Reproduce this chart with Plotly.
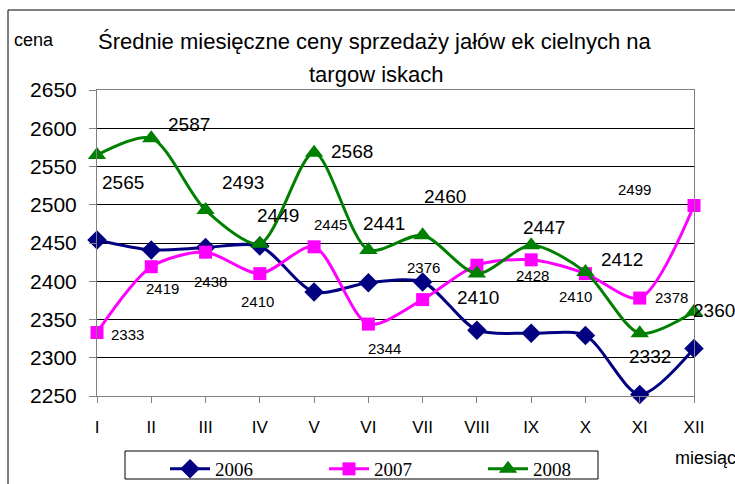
import plotly.graph_objects as go

months = ["I", "II", "III", "IV", "V", "VI", "VII", "VIII", "IX", "X", "XI", "XII"]
series_names = ["2006", "2007", "2008"]
v2006 = [2454, 2441, 2444, 2446, 2386, 2398, 2399, 2336, 2332, 2329, 2252, 2312]
v2007 = [2333, 2419, 2438, 2410, 2445, 2344, 2376, 2421, 2428, 2410, 2378, 2499]
v2008 = [2565, 2587, 2493, 2449, 2568, 2441, 2460, 2410, 2447, 2412, 2332, 2360]
labeled2007 = [True, True, True, True, True, True, True, False, True, True, True, True]
y_ticks = [2250, 2300, 2350, 2400, 2450, 2500, 2550, 2600, 2650]

# label offsets in pixels (dx right, dy down)
g_dx = [26, 38, 37, 18, 38, 16, 22, 1, 13, 37, 10, 20]
g_dy = [27, -14, -28, -28, -1, -26, -39, 24, -18, -13, 23, -1]
p_dx = [30, 11, 5, -2, 16, 16, 1, 0, 1, -10, 32, -60]
p_dy = [2, 22, 29, 28, -22, 24, -32, 0, 16, 23, -1, -16]

W, H = 735, 484
L, R, T, B = 97, 41, 90, 88
pw, ph = W - L - R, H - T - B

def px(xp):
    return (xp - L) / pw

def py(yp):
    return (H - B - yp) / ph

fig = go.Figure()
styles = [
    ("#000080", "diamond", 15),
    ("#FF00FF", "square", 13),
    ("#008000", "triangle-up", 16),
]
for name, vals, (col, sym, sz) in zip(series_names, [v2006, v2007, v2008], styles):
    fig.add_trace(go.Scatter(
        x=months, y=vals, name=name, mode="lines+markers",
        line=dict(color=col, width=3, shape="spline", smoothing=0.8),
        marker=dict(color=col, symbol=sym, size=sz),
        cliponaxis=False,
    ))

ann = []
for i, m in enumerate(months):
    ann.append(dict(x=m, y=v2008[i], text=str(v2008[i]), showarrow=False,
                    xshift=g_dx[i], yshift=-g_dy[i],
                    font=dict(family="Liberation Sans, Arial", size=19, color="#000")))
    if labeled2007[i]:
        ann.append(dict(x=m, y=v2007[i], text=str(v2007[i]), showarrow=False,
                        xshift=p_dx[i], yshift=-p_dy[i],
                        font=dict(family="Liberation Sans, Arial", size=15, color="#000")))

ann += [
    dict(xref="paper", yref="paper", x=px(374), y=py(42), xanchor="center", yanchor="middle",
         text="Średnie miesięczne ceny sprzedaży jałów ek cielnych na", showarrow=False,
         font=dict(family="Liberation Sans, Arial", size=22, color="#000")),
    dict(xref="paper", yref="paper", x=px(376), y=py(75), xanchor="center", yanchor="middle",
         text="targow iskach", showarrow=False,
         font=dict(family="Liberation Sans, Arial", size=22, color="#000")),
    dict(xref="paper", yref="paper", x=px(12), y=py(40), xanchor="left", yanchor="middle",
         text="cena", showarrow=False,
         font=dict(family="Liberation Sans, Arial", size=18, color="#000")),
    dict(xref="paper", yref="paper", x=px(673), y=py(458), xanchor="left", yanchor="middle",
         text="miesiąc", showarrow=False,
         font=dict(family="Liberation Sans, Arial", size=18, color="#000")),
]

fig.update_layout(
    width=W, height=H,
    margin=dict(l=L, r=R, t=T, b=B, autoexpand=False),
    paper_bgcolor="white", plot_bgcolor="white",
    annotations=ann,
    showlegend=True,
    legend=dict(orientation="h", x=px(165), y=py(450), xanchor="left", yanchor="top",
                borderwidth=0, bgcolor="rgba(0,0,0,0)",
                font=dict(family="Liberation Serif, Times New Roman", size=19, color="#000"),
                entrywidth=104, entrywidthmode="pixels", itemwidth=40,
                tracegroupgap=0),
    shapes=[
        dict(type="rect", xref="paper", yref="paper", x0=px(8), y0=-0.6, x1=1.3, y1=py(10),
             line=dict(color="#000", width=1), layer="below"),
        dict(type="rect", xref="paper", yref="paper", x0=px(125), y0=py(479), x1=px(598), y1=py(451),
             line=dict(color="#000", width=1), fillcolor="white", layer="below"),
    ],
)
fig.update_xaxes(range=[0, 11], showgrid=False, showline=True, linecolor="#808080", linewidth=1,
                 mirror=True, ticks="outside", ticklen=6, tickcolor="#808080",
                 ticklabelstandoff=10,
                 tickfont=dict(family="Liberation Sans, Arial", size=17, color="#000"),
                 zeroline=False)
fig.update_yaxes(range=[2250, 2650], tickvals=y_ticks, showgrid=True, gridcolor="#000", gridwidth=1,
                 showline=True, linecolor="#808080", linewidth=1, mirror=True,
                 ticks="outside", ticklen=7, tickcolor="#808080",
                 ticklabelstandoff=8,
                 tickfont=dict(family="Liberation Sans, Arial", size=21, color="#000"),
                 zeroline=False)

fig.write_html("out.html", config={"displayModeBar": False},
               post_script="document.body.style.margin='0';")
